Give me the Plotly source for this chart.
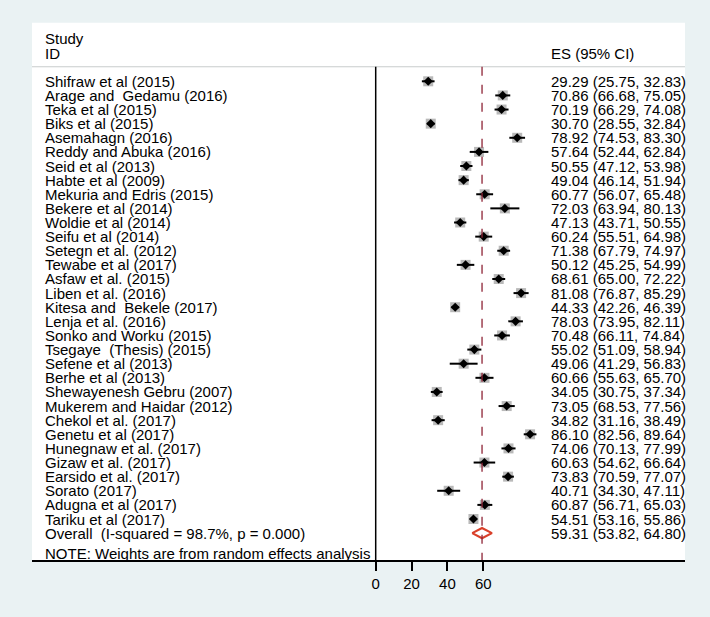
import plotly.graph_objects as go

studies = [
    "Shifraw et al (2015)", "Arage and \u00a0Gedamu (2016)", "Teka et al (2015)", "Biks et al (2015)",
    "Asemahagn (2016)", "Reddy and Abuka (2016)", "Seid et al (2013)", "Habte et al (2009)",
    "Mekuria and Edris (2015)", "Bekere et al (2014)", "Woldie et al (2014)", "Seifu et al (2014)",
    "Setegn et al. (2012)", "Tewabe et al (2017)", "Asfaw et al. (2015)", "Liben et al. (2016)",
    "Kitesa and \u00a0Bekele (2017)", "Lenja et al. (2016)", "Sonko and Worku (2015)",
    "Tsegaye \u00a0(Thesis) (2015)", "Sefene et al (2013)", "Berhe et al (2013)",
    "Shewayenesh Gebru (2007)", "Mukerem and Haidar (2012)", "Chekol et al. (2017)",
    "Genetu et al (2017)", "Hunegnaw et al. (2017)", "Gizaw et al. (2017)", "Earsido et al. (2017)",
    "Sorato (2017)", "Adugna et al (2017)", "Tariku et al (2017)",
]
es = [29.29, 70.86, 70.19, 30.70, 78.92, 57.64, 50.55, 49.04, 60.77, 72.03, 47.13, 60.24,
      71.38, 50.12, 68.61, 81.08, 44.33, 78.03, 70.48, 55.02, 49.06, 60.66, 34.05, 73.05,
      34.82, 86.10, 74.06, 60.63, 73.83, 40.71, 60.87, 54.51]
lo = [25.75, 66.68, 66.29, 28.55, 74.53, 52.44, 47.12, 46.14, 56.07, 63.94, 43.71, 55.51,
      67.79, 45.25, 65.00, 76.87, 42.26, 73.95, 66.11, 51.09, 41.29, 55.63, 30.75, 68.53,
      31.16, 82.56, 70.13, 54.62, 70.59, 34.30, 56.71, 53.16]
hi = [32.83, 75.05, 74.08, 32.84, 83.30, 62.84, 53.98, 51.94, 65.48, 80.13, 50.55, 64.98,
      74.97, 54.99, 72.22, 85.29, 46.39, 82.11, 74.84, 58.94, 56.83, 65.70, 37.34, 77.56,
      38.49, 89.64, 77.99, 66.64, 77.07, 47.11, 65.03, 55.86]
overall_label = "Overall  (I-squared = 98.7%, p = 0.000)"
overall_es, overall_lo, overall_hi = 59.31, 53.82, 64.80
note = "NOTE: Weights are from random effects analysis"
tick_vals = [0, 20, 40, 60]

FONT = "Liberation Sans, Arial, sans-serif"
FS = 15
BG = "#EAF2F3"

rows = list(range(len(studies)))
ov_row = len(studies)

fig = go.Figure()

# weight boxes
fig.add_trace(go.Scatter(x=es, y=rows, mode="markers",
                         marker=dict(symbol="square", size=10, color="#b9b9b9", line=dict(width=0)),
                         hoverinfo="skip", showlegend=False))
# confidence intervals
fig.add_trace(go.Scatter(x=es, y=rows, mode="markers",
                         marker=dict(size=1, color="rgba(0,0,0,0)"),
                         error_x=dict(type="data", symmetric=False,
                                      array=[h - e for h, e in zip(hi, es)],
                                      arrayminus=[e - l for e, l in zip(es, lo)],
                                      thickness=2, width=0, color="black"),
                         hoverinfo="skip", showlegend=False))
# point estimates
fig.add_trace(go.Scatter(x=es, y=rows, mode="markers",
                         marker=dict(symbol="diamond", size=7, color="black", line=dict(width=0)),
                         hoverinfo="skip", showlegend=False))
# overall diamond
hh = 0.36
fig.add_trace(go.Scatter(x=[overall_lo, overall_es, overall_hi, overall_es, overall_lo],
                         y=[ov_row, ov_row - hh, ov_row, ov_row + hh, ov_row],
                         mode="lines", line=dict(color="#d9402a", width=2.2),
                         hoverinfo="skip", showlegend=False))

y_bottom = 33.973
y_top = -5.758
sep_row = -1.03

shapes = [
    dict(type="rect", xref="paper", yref="paper", x0=32/710, x1=685/710, y0=0, y1=1-22.7/561,
         fillcolor="white", line=dict(width=0), layer="below"),
    dict(type="line", xref="paper", yref="y", x0=32/710, x1=685/710, y0=sep_row, y1=sep_row,
         line=dict(color="#c8cccc", width=1.2)),
    dict(type="line", xref="x", yref="y", x0=0, x1=0, y0=sep_row, y1=y_bottom,
         line=dict(color="black", width=1.5)),
    dict(type="line", xref="x", yref="y", x0=overall_es, x1=overall_es, y0=sep_row, y1=y_bottom,
         line=dict(color="#8e2436", width=1.3, dash="dash")),
    dict(type="line", xref="paper", yref="paper", x0=32/710, x1=685/710, y0=0, y1=0,
         line=dict(color="black", width=1.8)),
]

annotations = []
def txt(x, y, s, anchor="left"):
    annotations.append(dict(x=x, y=y, xref="paper", yref="y", text=s, showarrow=False,
                            xanchor=anchor, yanchor="middle",
                            font=dict(family=FONT, size=FS, color="black")))

txt(43/710, -3, "Study")
txt(43/710, -2, "ID")
txt(549/710, -2, "ES (95% CI)")
for i, s in enumerate(studies):
    txt(43/710, i, s)
    txt(549/710, i, f"{es[i]:.2f} ({lo[i]:.2f}, {hi[i]:.2f})")
txt(43/710, ov_row, overall_label)
txt(549/710, ov_row, f"{overall_es:.2f} ({overall_lo:.2f}, {overall_hi:.2f})")
txt(43/710, ov_row + 1.45, note)

fig.update_layout(
    width=710, height=617,
    margin=dict(l=0, r=0, t=0, b=56),
    paper_bgcolor=BG, plot_bgcolor=BG,
    shapes=shapes, annotations=annotations,
    xaxis=dict(range=[-375.7/1.793, (710-375.7)/1.793], tickvals=tick_vals,
               ticktext=[str(v) for v in tick_vals], ticks="outside", ticklen=9,
               tickwidth=1.5, tickcolor="black", showline=False, showgrid=False,
               zeroline=False, tickfont=dict(family=FONT, size=FS, color="black"),
               fixedrange=True),
    yaxis=dict(range=[y_bottom, y_top], visible=False, fixedrange=True),
    showlegend=False,
)

fig.write_html(
    "out.html",
    config={"displayModeBar": False},
    post_script="document.body.style.margin='0px';document.body.style.overflow='hidden';"
                "document.body.style.background='" + BG + "';",
)
